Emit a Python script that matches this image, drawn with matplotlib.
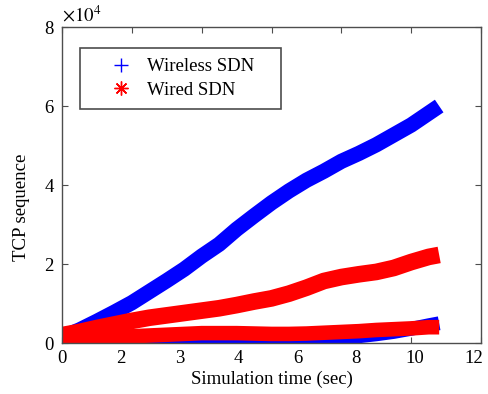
import numpy as np
import matplotlib
matplotlib.use("Agg")
import matplotlib.pyplot as plt
from matplotlib.lines import Line2D

# values, y in units of 1e4
t = [0, 0.5, 1, 1.5, 2, 2.5, 3, 3.5, 4, 4.5, 5, 5.5, 6, 6.5, 7, 7.5, 8, 8.5,
     9, 9.5, 10, 10.5, 10.8]
wireless_a = [0.15, 0.33, 0.55, 0.78, 1.02, 1.3, 1.58, 1.87, 2.2, 2.5, 2.88,
              3.22, 3.55, 3.85, 4.12, 4.35, 4.6, 4.8, 5.02, 5.27, 5.52, 5.82, 6.0]
wireless_b = [0, 0, 0, 0, 0, 0, 0.01, 0.02, 0.03, 0.03, 0.04, 0.04, 0.05,
              0.06, 0.08, 0.1, 0.13, 0.17, 0.22, 0.28, 0.36, 0.45, 0.5]
wired_a = [0.2, 0.28, 0.38, 0.47, 0.56, 0.64, 0.7, 0.76, 0.82, 0.88, 0.96,
           1.05, 1.13, 1.25, 1.4, 1.57, 1.67, 1.74, 1.8, 1.9, 2.05, 2.18, 2.23]
wired_b = [0.15, 0.15, 0.15, 0.16, 0.17, 0.19, 0.21, 0.23, 0.25, 0.25, 0.25,
           0.24, 0.23, 0.23, 0.24, 0.26, 0.28, 0.3, 0.33, 0.35, 0.37, 0.4, 0.4]

xtick_labels = ["0", "2", "3", "4", "6", "8", "10", "12"]
yticks = [0, 2, 4, 6, 8]
series_names = ["Wireless SDN", "Wired SDN"]

plt.rcParams["font.family"] = ["Liberation Serif", "DejaVu Serif"]
plt.rcParams["mathtext.fontset"] = "stix"

fig = plt.figure(figsize=(4.89, 3.94), dpi=100)
ax = fig.add_axes([0.1268, 0.1294, 0.857, 0.802])

blue = "#0000ff"
red = "#ff0000"
gray = "#4d4d4d"
fs = 13.5

ax.plot(t, wireless_b, color=blue, lw=10, solid_capstyle="butt")
ax.plot(t, wireless_a, color=blue, lw=11, solid_capstyle="butt")
ax.plot(t, wired_b, color=red, lw=10.5, solid_capstyle="butt")
ax.plot(t, wired_a, color=red, lw=12, solid_capstyle="butt")

ax.set_xlim(0, 12)
ax.set_ylim(0, 8)

# tick marks at 0..12 step 2, labels spread evenly as in the figure
ax.xaxis.remove_overlapping_locs = False
ax.set_xticks(np.arange(0, 13, 2))
ax.set_xticklabels([])
ax.set_xticks(np.linspace(0, 11.8, len(xtick_labels)), minor=True)
ax.set_xticklabels(xtick_labels, minor=True)
ax.tick_params(axis="x", which="minor", length=0, labelsize=fs, pad=5)
ax.set_yticks(yticks)
ax.set_yticklabels([str(v) for v in yticks])
ax.tick_params(which="major", direction="in", length=4, width=0.8,
               color=gray, top=True, right=True, labelsize=fs, pad=6)

for s in ax.spines.values():
    s.set_color(gray)
    s.set_linewidth(1.0)

ax.text(0.0, 1.004, r"$\times10^4$", transform=ax.transAxes, fontsize=fs,
        ha="left", va="bottom")

ax.set_xlabel("Simulation time (sec)", fontsize=fs, labelpad=3)
ax.set_ylabel("TCP sequence", fontsize=fs)
ax.yaxis.set_label_coords(-0.077, 0.43)

handles = [
    Line2D([], [], color=blue, marker="+", linestyle="None", markersize=10,
           markeredgewidth=1.0),
    Line2D([], [], color=red, marker=(8, 2, 0), linestyle="None",
           markersize=10, markeredgewidth=1.0),
]
leg = ax.legend(handles, series_names, loc="upper left",
                bbox_to_anchor=(0.043, 0.5, 0.48, 0.434), mode="expand",
                borderaxespad=0, fancybox=False, fontsize=fs,
                handletextpad=-0.3, handlelength=3.3, borderpad=0.55,
                labelspacing=0.35)
leg.get_frame().set_edgecolor(gray)
leg.get_frame().set_linewidth(1.2)
leg.get_frame().set_alpha(1)

fig.savefig("out.png", dpi=100)
